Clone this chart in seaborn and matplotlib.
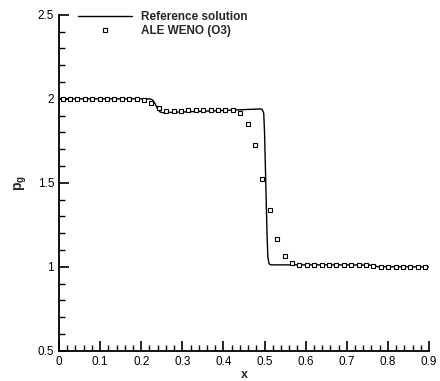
import matplotlib
matplotlib.use("Agg")
import matplotlib.pyplot as plt
import seaborn as sns
import pandas as pd
from matplotlib.ticker import MultipleLocator, FormatStrFormatter

ref_x = [0.0, 0.222, 0.228, 0.234, 0.240, 0.246, 0.252, 0.30, 0.40, 0.488,
         0.494, 0.498, 0.500, 0.503, 0.506, 0.508, 0.511, 0.516, 0.60, 0.70,
         0.765, 0.775, 0.90]
ref_y = [2.0, 2.0, 1.993, 1.970, 1.940, 1.922, 1.918, 1.922, 1.931, 1.940,
         1.938, 1.915, 1.80, 1.50, 1.20, 1.06, 1.018, 1.012, 1.012, 1.012,
         1.010, 1.001, 1.0]

# ALE WENO (O3) cell values
ale_x = [0.009, 0.027, 0.045, 0.063, 0.081, 0.099, 0.117, 0.135, 0.153, 0.171,
         0.189, 0.207, 0.225, 0.243, 0.261, 0.279, 0.297, 0.315, 0.333, 0.351,
         0.369, 0.387, 0.405, 0.423, 0.441, 0.459, 0.477, 0.495, 0.513, 0.531,
         0.549, 0.567, 0.585, 0.603, 0.621, 0.639, 0.657, 0.675, 0.693, 0.711,
         0.729, 0.747, 0.765, 0.783, 0.801, 0.819, 0.837, 0.855, 0.873, 0.891]
ale_y = [2.0, 2.0, 2.0, 2.0, 2.0, 2.0, 2.0, 2.0, 2.0, 2.0,
         1.998, 1.992, 1.978, 1.948, 1.930, 1.930, 1.930, 1.931, 1.931, 1.932,
         1.932, 1.933, 1.934, 1.936, 1.915, 1.853, 1.726, 1.524, 1.339, 1.167,
         1.067, 1.026, 1.014, 1.014, 1.014, 1.014, 1.014, 1.014, 1.014, 1.014,
         1.014, 1.014, 1.008, 1.0, 1.0, 1.0, 1.0, 1.0, 1.0, 1.0]

x_ticks = [0, 0.1, 0.2, 0.3, 0.4, 0.5, 0.6, 0.7, 0.8, 0.9]
y_ticks = [0.5, 1.0, 1.5, 2.0, 2.5]

ref = pd.DataFrame({"x": ref_x, "p": ref_y})
ale = pd.DataFrame({"x": ale_x, "p": ale_y})

sns.set_style("ticks")
plt.rcParams["font.family"] = ["Liberation Sans", "DejaVu Sans"]
plt.rcParams["mathtext.fontset"] = "custom"
plt.rcParams["mathtext.bf"] = "Liberation Sans:bold"
plt.rcParams["mathtext.rm"] = "Liberation Sans"

fig = plt.figure(figsize=(4.4, 3.81), dpi=100)
ax = fig.add_axes([0.134, 0.079, 0.841, 0.882])

sns.lineplot(data=ref, x="x", y="p", ax=ax, color="black", linewidth=1.0,
             sort=False, label="Reference solution")
ax.plot(ale["x"], ale["p"], linestyle="none", marker="s", markersize=3.4,
        markerfacecolor="white", markeredgecolor="black", markeredgewidth=0.8,
        label="ALE WENO (O3)")

ax.set_xlim(0, 0.9)
ax.set_ylim(0.5, 2.5)
ax.set_xticks(x_ticks)
ax.set_yticks(y_ticks)
ax.xaxis.set_minor_locator(MultipleLocator(0.02))
ax.yaxis.set_minor_locator(MultipleLocator(0.1))
ax.xaxis.set_major_formatter(FormatStrFormatter("%g"))
ax.yaxis.set_major_formatter(FormatStrFormatter("%g"))
ax.tick_params(which="major", direction="in", length=7, width=1.2,
               labelsize=8.5, pad=3.5, color="black", labelcolor="black")
ax.tick_params(which="minor", direction="in", length=4, width=1.0, color="black")

sns.despine(ax=ax)
for s in ["left", "bottom"]:
    ax.spines[s].set_linewidth(1.3)
    ax.spines[s].set_color("black")

ax.set_xlabel("x", fontsize=9, fontweight="bold", labelpad=1)
ax.set_ylabel(r"$\mathbf{p_g}$", fontsize=10, labelpad=6)

leg = ax.legend(loc="upper left", bbox_to_anchor=(0.051, 1.01), frameon=False,
                borderpad=0, borderaxespad=0, handlelength=4.6,
                handletextpad=0.75, labelspacing=0.1,
                prop={"weight": "bold", "size": 8.5})

fig.savefig("out.png", dpi=100)
